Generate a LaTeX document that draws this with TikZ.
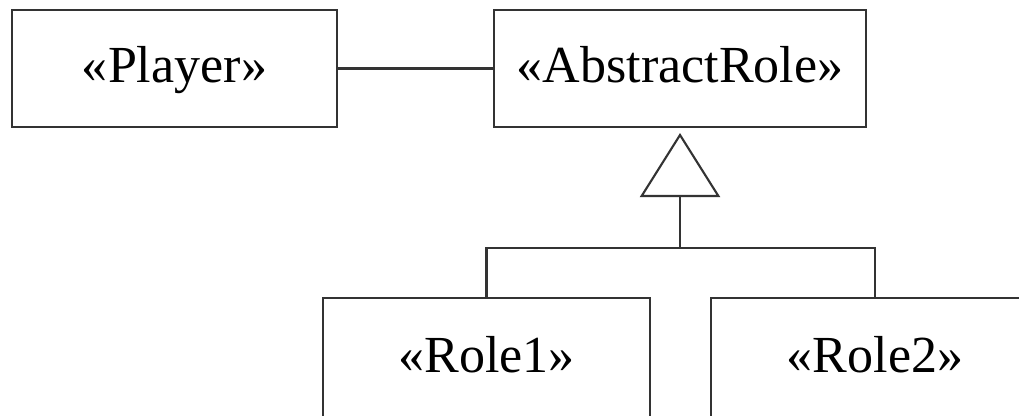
\documentclass[tikz,border=0pt]{standalone}
\usepackage{fontspec}
\setmainfont{Liberation Serif}
\usetikzlibrary{arrows.meta, positioning}

\begin{document}
\begin{tikzpicture}[x=0.01cm, y=-0.01cm, line width=0.6pt, draw=black!80,
    classbox/.style={draw=black!80, minimum height=1.17cm, inner sep=0pt, text height=10.4pt, text depth=2.2pt, font=\fontsize{14.8}{17}\selectfont}]

% picture frame
\clip (0,0) rectangle (1019,415);

% Classes on top
\node[classbox, minimum width=3.25cm] (player) at (174.5,68.5) {«Player»};
\node[classbox, minimum width=3.72cm] (abstract) at (680,68.5) {«AbstractRole»};

% Roles, set down (cut at the bottom)
\node[classbox, minimum width=3.27cm, minimum height=1.20cm] (role1) at (486.5,358) {«Role1»};
\node[classbox, minimum width=3.28cm, minimum height=1.20cm] (role2) at (875,358) {«Role2»};

% Association
\draw (player.east) -- (abstract.west);

% Generalization
\coordinate (apex) at (680,133);
\coordinate (bar) at (680,248);
\draw[-{Triangle[open, length=0.64cm, width=0.8cm, line width=0.6pt]}] (bar) -- (apex);
\draw (role1.north) |- (bar) -| (role2.north);

\end{tikzpicture}
\end{document}
